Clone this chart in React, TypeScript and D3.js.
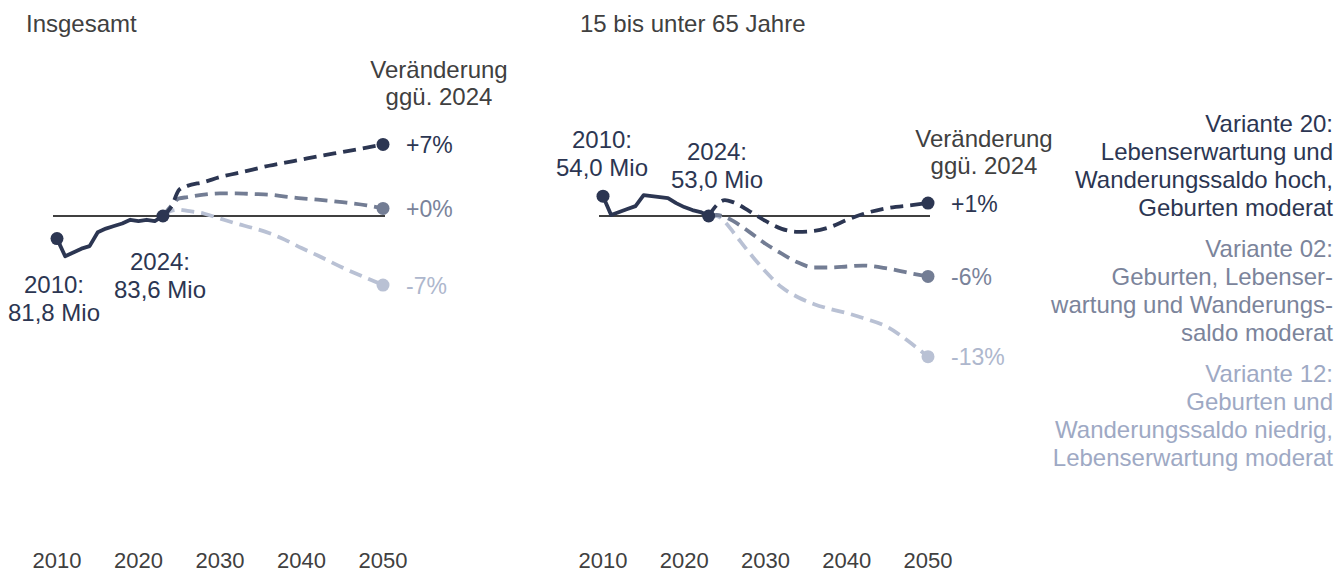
import React, { useEffect } from "react";
import * as d3 from "d3";

// ---------- data ----------
const histYears = [2010, 2011, 2012, 2013, 2014, 2015, 2016, 2017, 2018, 2019, 2020, 2021, 2022, 2023];
const projYears = [2023, 2024, 2025, 2026, 2028, 2030, 2032, 2034, 2036, 2038, 2040, 2042, 2045, 2048, 2050];

// Insgesamt (Mio)
const totalBase = 83.6;
const totalHist = [81.8, 80.4, 80.7, 81.0, 81.2, 82.3, 82.6, 82.8, 83.0, 83.3, 83.2, 83.3, 83.2, 83.6];
const totalV20 = [83.6, 84.3, 85.7, 86.0, 86.3, 86.7, 87.0, 87.3, 87.6, 87.85, 88.1, 88.35, 88.7, 89.05, 89.3];
const totalV02 = [83.6, 84.4, 85.0, 85.1, 85.3, 85.4, 85.4, 85.35, 85.3, 85.15, 85.0, 84.9, 84.7, 84.45, 84.2];
const totalV12 = [83.6, 84.0, 84.1, 84.0, 83.8, 83.4, 83.0, 82.65, 82.25, 81.7, 81.05, 80.45, 79.5, 78.65, 78.1];

// 15 bis unter 65 Jahre (Mio)
const workBase = 53.0;
const workHist = [54.0, 53.05, 53.2, 53.35, 53.5, 54.05, 54.0, 53.95, 53.9, 53.65, 53.45, 53.3, 53.2, 53.0];
const workV20 = [53.0, 53.55, 53.8, 53.7, 53.25, 52.75, 52.35, 52.2, 52.25, 52.45, 52.8, 53.1, 53.4, 53.55, 53.65];
const workV02 = [53.0, 53.05, 52.95, 52.75, 52.2, 51.6, 51.1, 50.65, 50.4, 50.4, 50.45, 50.5, 50.35, 50.1, 49.95];
const workV12 = [53.0, 53.0, 52.7, 52.2, 51.15, 50.2, 49.4, 48.9, 48.55, 48.3, 48.1, 47.85, 47.4, 46.55, 45.9];

const tickYears = [2010, 2020, 2030, 2040, 2050];
const chartTitles = ["Insgesamt", "15 bis unter 65 Jahre"];
const changeLabelsTotal = ["+7%", "+0%", "-7%"];
const changeLabelsWork = ["+1%", "-6%", "-13%"];
const startLabelsTotal = ["2010:", "81,8 Mio"];
const baseLabelsTotal = ["2024:", "83,6 Mio"];
const startLabelsWork = ["2010:", "54,0 Mio"];
const baseLabelsWork = ["2024:", "53,0 Mio"];
const changeHeader = ["Veränderung", "ggü. 2024"];

const legendItems = [
  ["Variante 20:", "Lebenserwartung und", "Wanderungssaldo hoch,", "Geburten moderat"],
  ["Variante 02:", "Geburten, Lebenser-", "wartung und Wanderungs-", "saldo moderat"],
  ["Variante 12:", "Geburten und", "Wanderungssaldo niedrig,", "Lebenserwartung moderat"],
];

// ---------- style ----------
const FONT = "'Liberation Sans', Arial, sans-serif";
const FS = 24;
const GREY = "#404040";
const LINE_COLORS = ["#2c3652", "#737d94", "#b9c1d4"];
const TEXT_COLORS = ["#2c3652", "#7a839a", "#aeb7cd"];
const LEGEND_COLORS = ["#2c3652", "#7b849b", "#9ea9c4"];

const yPct = d3.scaleLinear().domain([-15, 10]).range([373.5, 111]);

type PanelProps = {
  title: string;
  titleX: number;
  xRange: [number, number];
  base: number;
  hist: number[];
  proj: number[][];
  changeLabels: string[];
  startLabels: string[];
  baseLabels: string[];
  startLabelPos: [number, number];
  baseLabelPos: [number, number];
  headerY: number;
};

function Panel(p: PanelProps) {
  const x = d3.scaleLinear().domain([2010, 2050]).range(p.xRange);
  const toY = (v: number) => yPct((v / p.base - 1) * 100);
  const histLine = d3
    .line<number>()
    .x((_, i) => x(histYears[i]))
    .y((v) => toY(v))
    .curve(d3.curveLinear);
  const projLine = d3
    .line<number>()
    .x((_, i) => x(projYears[i]))
    .y((v) => toY(v))
    .curve(d3.curveMonotoneX);
  const endX = x(2050);
  const baseX = x(histYears[histYears.length - 1]);
  return (
    <g>
      <text x={p.titleX} y={32} fontSize={FS} fill={GREY} fontFamily={FONT}>
        {p.title}
      </text>
      {changeHeader.map((t, i) => (
        <text key={t} x={endX + 56} y={p.headerY + i * 27} fontSize={FS} fill={GREY} textAnchor="middle" fontFamily={FONT}>
          {t}
        </text>
      ))}
      <line x1={x(2010) - 4} x2={endX + 2} y1={yPct(0)} y2={yPct(0)} stroke={GREY} strokeWidth={2} />
      {p.proj
        .slice()
        .reverse()
        .map((s, ri) => {
          const i = p.proj.length - 1 - ri;
          return (
            <path
              key={i}
              d={projLine(s) || ""}
              fill="none"
              stroke={LINE_COLORS[i]}
              strokeWidth={3.8}
              strokeDasharray="13 7"
              strokeLinecap="butt"
            />
          );
        })}
      <path d={histLine(p.hist) || ""} fill="none" stroke={LINE_COLORS[0]} strokeWidth={3.8} strokeLinejoin="round" />
      <circle cx={x(2010)} cy={toY(p.hist[0])} r={6.5} fill={LINE_COLORS[0]} />
      <circle cx={baseX} cy={toY(p.hist[p.hist.length - 1])} r={6.5} fill={LINE_COLORS[0]} />
      {p.proj.map((s, i) => (
        <g key={"end" + i}>
          <circle cx={endX} cy={toY(s[s.length - 1])} r={6.5} fill={LINE_COLORS[i]} />
          <text x={endX + 23} y={toY(s[s.length - 1]) + 8.5} fontSize={FS - 1} fill={TEXT_COLORS[i]} fontFamily={FONT}>
            {p.changeLabels[i]}
          </text>
        </g>
      ))}
      {p.startLabels.map((t, i) => (
        <text key={"s" + i} x={p.startLabelPos[0]} y={p.startLabelPos[1] + i * 28} fontSize={FS} fill={LINE_COLORS[0]} textAnchor="middle" fontFamily={FONT}>
          {t}
        </text>
      ))}
      {p.baseLabels.map((t, i) => (
        <text key={"b" + i} x={p.baseLabelPos[0]} y={p.baseLabelPos[1] + i * 28} fontSize={FS} fill={LINE_COLORS[0]} textAnchor="middle" fontFamily={FONT}>
          {t}
        </text>
      ))}
      {tickYears.map((yr) => (
        <text key={yr} x={x(yr)} y={568} fontSize={FS - 2} fill={GREY} textAnchor="middle" fontFamily={FONT}>
          {yr}
        </text>
      ))}
    </g>
  );
}

export default function App() {
  useEffect(() => {
    document.body.style.margin = "0";
  }, []);
  const legendStarts = [132, 257, 382];
  return (
    <svg width={1337} height={573} style={{ display: "block", position: "absolute", left: 0, top: 0, background: "#fff" }}>
      <Panel
        title={chartTitles[0]}
        titleX={26}
        xRange={[57, 383]}
        base={totalBase}
        hist={totalHist}
        proj={[totalV20, totalV02, totalV12]}
        changeLabels={changeLabelsTotal}
        startLabels={startLabelsTotal}
        baseLabels={baseLabelsTotal}
        startLabelPos={[54, 293]}
        baseLabelPos={[160, 270]}
        headerY={78}
      />
      <Panel
        title={chartTitles[1]}
        titleX={580}
        xRange={[603, 928]}
        base={workBase}
        hist={workHist}
        proj={[workV20, workV02, workV12]}
        changeLabels={changeLabelsWork}
        startLabels={startLabelsWork}
        baseLabels={baseLabelsWork}
        startLabelPos={[602, 148]}
        baseLabelPos={[717, 160]}
        headerY={147}
      />
      {legendItems.map((lines, gi) =>
        lines.map((t, li) => (
          <text
            key={gi + "-" + li}
            x={1333}
            y={legendStarts[gi] + li * 28}
            fontSize={FS}
            fill={LEGEND_COLORS[gi]}
            textAnchor="end"
            fontFamily={FONT}
          >
            {t}
          </text>
        ))
      )}
    </svg>
  );
}
